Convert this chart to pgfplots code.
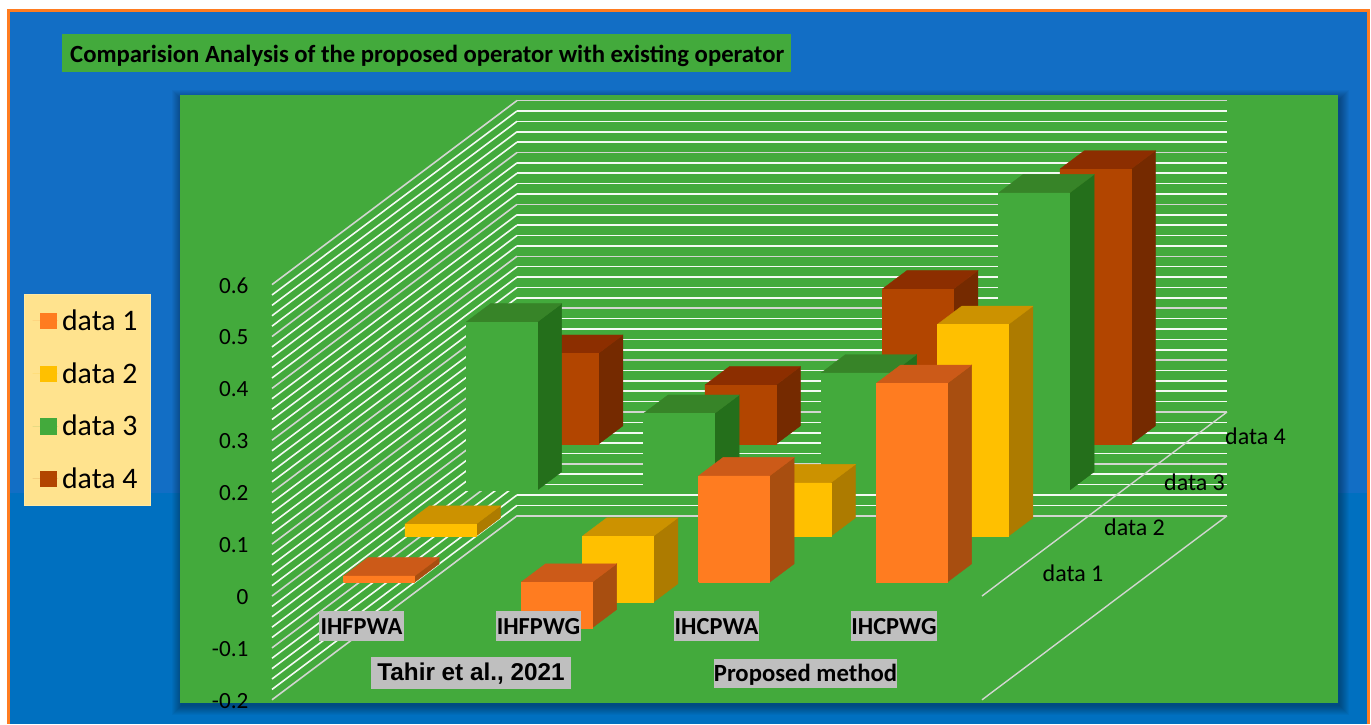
\documentclass[border=0pt]{standalone}
\usepackage{fontspec}
\setmainfont{Carlito}
\newfontfamily\arialfont{Liberation Sans}
\usepackage{pgfplots}
\pgfplotsset{compat=1.18}

\definecolor{framec}{HTML}{FF7C20}
\definecolor{bluetop}{HTML}{126EC5}
\definecolor{bluelow}{HTML}{0070C0}
\definecolor{panel}{HTML}{43AA3C}
\definecolor{legbg}{HTML}{FFE38E}
\definecolor{labelbg}{HTML}{BFBFBF}
\definecolor{majorline}{HTML}{D2D6D0}
% front, top and side shade of each series
\definecolor{aF}{HTML}{FF7C20}\definecolor{aT}{HTML}{CC5A18}\definecolor{aS}{HTML}{A84E10}
\definecolor{bF}{HTML}{FFC000}\definecolor{bT}{HTML}{CC9200}\definecolor{bS}{HTML}{AD7B00}
\definecolor{cF}{HTML}{43AA3C}\definecolor{cT}{HTML}{378428}\definecolor{cS}{HTML}{246F1B}
\definecolor{dF}{HTML}{B24500}\definecolor{dT}{HTML}{8C2E00}\definecolor{dS}{HTML}{752A00}

% One box: \drawbox{prefix}{category}{series}{value}; prefix selects the colours.
\newcommand{\drawbox}[4]{%
  \pgfmathsetmacro\xa{#2+0.3}\pgfmathsetmacro\xb{#2+0.7}%
  \pgfmathsetmacro\ya{#3+0.3}\pgfmathsetmacro\yb{#3+0.7}%
  \pgfmathsetmacro\ztop{max(#4,0)}\pgfmathsetmacro\zlow{min(#4,0)}%
  \edef\tmp{\noexpand\addplot3[forget plot,mark=none,fill=#1S,draw=#1S,line width=.4pt]
    coordinates {(\xb,\ya,\zlow)(\xb,\yb,\zlow)(\xb,\yb,\ztop)(\xb,\ya,\ztop)(\xb,\ya,\zlow)};}\tmp
  \edef\tmp{\noexpand\addplot3[forget plot,mark=none,fill=#1T,draw=#1T,line width=.4pt]
    coordinates {(\xa,\ya,\ztop)(\xb,\ya,\ztop)(\xb,\yb,\ztop)(\xa,\yb,\ztop)(\xa,\ya,\ztop)};}\tmp
  \edef\tmp{\noexpand\addplot3[forget plot,mark=none,fill=#1F,draw=#1F,line width=.4pt]
    coordinates {(\xa,\ya,\zlow)(\xb,\ya,\zlow)(\xb,\ya,\ztop)(\xa,\ya,\ztop)(\xa,\ya,\zlow)};}\tmp
}

\begin{document}
\begin{tikzpicture}[x=1pt,y=-1pt]
  \path[use as bounding box] (0,0) rectangle (1371,724);
  \fill[white] (0,0) rectangle (1371,724);
  \fill[framec] (7,9) rectangle (1370,724);
  \fill[bluetop] (10,12) rectangle (1367,724);
  \fill[bluelow] (10,493) rectangle (1367,724);
  % soft shadow round the plot panel
  \foreach \s in {1,...,10}
    \fill[black,opacity=.035] ({180-9+\s},{95-6+\s}) rectangle ({1338+12-\s},{703+13-\s});
  \fill[panel] (180,95) rectangle (1338,703);
  \fill[panel] (62,34) rectangle (791,72);
  \node[anchor=west,inner sep=0pt,font=\bfseries\fontsize{24.7}{28}\selectfont] at (70,55.5)
    {Comparision Analysis of the proposed operator with existing operator};

  \begin{axis}[
    at={(272pt,-596pt)},anchor=origin,
    x={(177.5pt,0pt)},y={(61.25pt,46pt)},z={(0pt,519pt)},
    xmin=0,xmax=4,ymin=0,ymax=4,zmin=-0.2,zmax=0.6,
    clip=false,
    axis line style={draw=none},
    xtick=\empty,ytick=\empty,
    ztick={-0.2,-0.1,0,0.1,0.2,0.3,0.4,0.5,0.6},
    zticklabels={-0.2,-0.1,0,0.1,0.2,0.3,0.4,0.5,0.6},
    minor z tick num=4,
    zmajorgrids,zminorgrids,
    major grid style={draw=majorline,line width=1.6pt},
    minor grid style={draw=white!94!panel,line width=1.6pt},
    major tick length=0pt,minor tick length=0pt,
    z tick label style={font=\fontsize{23.2}{26}\selectfont,anchor=east,xshift=-20pt,yshift=-1pt},
    legend image code/.code={\path (0pt,0pt) -- (25.5pt,0pt);\fill[#1] (7.5pt,-8.5pt) rectangle (24pt,8pt);},
    legend cell align=left,
    legend style={
      at={(axis cs:-1.042,0,0.378)},anchor=center,
      fill=legbg,draw=legbg!80!white,line width=.8pt,
      font=\fontsize{29.8}{32}\selectfont,
      inner xsep=8.5pt,inner ysep=0pt,
      nodes={minimum height=52.6pt,inner ysep=0pt,inner xsep=4pt},
    },
  ]
    % data 4
    \drawbox{d}{0}{3}{0.175}
    \drawbox{d}{1}{3}{0.114}
    \drawbox{d}{2}{3}{0.299}
    \drawbox{d}{3}{3}{0.530}
    % data 3
    \drawbox{c}{0}{2}{0.324}
    \drawbox{c}{1}{2}{0.148}
    \drawbox{c}{2}{2}{0.226}
    \drawbox{c}{3}{2}{0.573}
    % data 2
    \drawbox{b}{0}{1}{0.023}
    \drawbox{b}{1}{1}{-0.127}
    \drawbox{b}{2}{1}{0.103}
    \drawbox{b}{3}{1}{0.408}
    % data 1
    \drawbox{a}{0}{0}{0.012}
    \drawbox{a}{1}{0}{-0.088}
    \drawbox{a}{2}{0}{0.205}
    \drawbox{a}{3}{0}{0.383}
    % edges of the floor planes on the right-hand side
    \addplot3[forget plot,mark=none,draw=majorline,line width=1.4pt] coordinates {(4,0,0)(4,4,0)};
    \addplot3[forget plot,mark=none,draw=majorline,line width=1.4pt] coordinates {(4,0,-0.2)(4,4,-0.2)};
    \addlegendimage{fill=aF,draw=none}\addlegendentry{data 1}
    \addlegendimage{fill=bF,draw=none}\addlegendentry{data 2}
    \addlegendimage{fill=cF,draw=none}\addlegendentry{data 3}
    \addlegendimage{fill=dF,draw=none}\addlegendentry{data 4}
  \end{axis}

  % series names along the depth axis
  \foreach \tx/\ty/\t in {1073/573/data 1,1134.5/527/data 2,1194.5/482/data 3,1255.5/436/data 4}
    \node[font=\fontsize{24}{28}\selectfont,inner sep=0pt] at (\tx,\ty) {\t};
  % category names
  \tikzset{catlabel/.style={fill=labelbg,inner sep=0pt,minimum width=84.5pt,text height=23pt,text depth=7pt,
    font=\bfseries\fontsize{24.4}{26}\selectfont}}
  \node[catlabel] at (361.5,626) {IHFPWA};
  \node[catlabel] at (538.5,626) {IHFPWG};
  \node[catlabel] at (716.5,626) {IHCPWA};
  \node[catlabel] at (894,626) {IHCPWG};
  \node[fill=labelbg,inner sep=0pt,text height=23pt,text depth=9pt,minimum width=200pt,
    font=\arialfont\bfseries\fontsize{24.3}{28}\selectfont] at (471,673) {Tahir et al., 2021};
  \node[fill=labelbg,inner sep=0pt,text height=23pt,text depth=6.6pt,minimum width=183pt,
    font=\bfseries\fontsize{24.7}{26}\selectfont] at (805.5,673.5) {Proposed method};
\end{tikzpicture}
\end{document}
